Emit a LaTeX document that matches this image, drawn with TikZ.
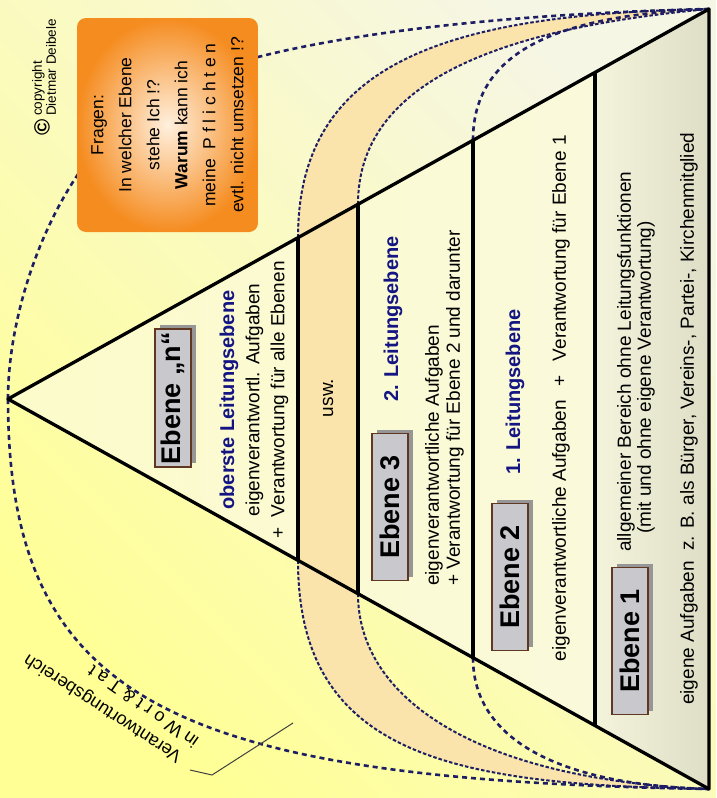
\documentclass[tikz,border=0pt]{standalone}
\usepackage{fontspec}
\setmainfont{Liberation Sans}
\usetikzlibrary{shadows}

\definecolor{bgyellow}{RGB}{255,255,150}
\definecolor{bgpale}{RGB}{246,246,228}
\definecolor{pyrleft}{RGB}{252,251,202}
\definecolor{pyrright}{RGB}{249,249,222}
\definecolor{peach}{RGB}{250,228,172}
\definecolor{navy}{RGB}{30,30,100}
\definecolor{headblue}{RGB}{20,20,130}
\definecolor{boxgray}{RGB}{200,200,205}
\definecolor{boxbrown}{RGB}{95,55,35}
\definecolor{shadowgray}{RGB}{150,150,150}
\definecolor{orangedark}{RGB}{245,140,32}
\definecolor{orangelight}{RGB}{255,240,222}
\definecolor{graylight}{RGB}{244,244,220}
\definecolor{grayband}{RGB}{222,222,198}

\tikzset{
  coarse/.style={draw=navy,line width=2.6pt,dash pattern=on 5pt off 4pt},
  fine/.style={draw=navy,line width=2pt,dash pattern=on 3.5pt off 2pt},
  wall/.style={line width=3.3pt,line join=round},
  ebenebox/.style={rotate=90,draw=boxbrown,line width=1.5pt,fill=boxgray,
    minimum width=147pt,minimum height=36pt,inner sep=0pt,
    font=\fontsize{27}{30}\selectfont\bfseries,
    drop shadow={shadow xshift=5pt,shadow yshift=4pt,fill=shadowgray,opacity=1}},
  head/.style={rotate=90,inner sep=0pt,text=headblue,font=\fontsize{20}{24}\selectfont\bfseries},
  txt/.style={rotate=90,inner sep=0pt,font=\fontsize{19}{21}\selectfont},
  bereichtxt/.style={inner sep=0pt,anchor=base west,font=\fontsize{18}{20}\selectfont},
}

\begin{document}
\begin{tikzpicture}[x=1pt,y=-1pt]
\useasboundingbox (0,0) rectangle (716,798);
\shade[top color=bgpale,bottom color=bgyellow,shading angle=-45] (0,0) rectangle (716,798);

\coordinate (A) at (8,399);
\coordinate (T) at (709,9);
\coordinate (B) at (709,789);
\coordinate (t1) at (298,237.7);
\coordinate (b1) at (298,560.3);
\coordinate (t2) at (358,204.3);
\coordinate (b2) at (358,593.7);
\coordinate (t3) at (473,140.3);
\coordinate (b3) at (473,657.7);
\coordinate (t4) at (595,72.4);
\coordinate (b4) at (595,725.6);

\shade[left color=pyrleft,right color=pyrright] (A) -- (T) -- (B) -- cycle;
\fill[peach] (t1) .. controls (298,60) and (450,14) .. (T)
  .. controls (480,30) and (358,90) .. (t2) -- (b2)
  .. controls (358,700) and (480,780) .. (B)
  .. controls (450,785) and (298,755) .. (b1) -- cycle;
\shade[left color=graylight,right color=grayband] (t4) -- (T) -- (B) -- (b4) -- cycle;

\draw[coarse] (A) .. controls (8,300) and (60,150) .. (165,90) .. controls (250,45) and (450,15) .. (T);
\draw[coarse] (A) .. controls (8,700) and (170,780) .. (B);
\draw[fine] (t1) .. controls (298,60) and (450,14) .. (T);
\draw[fine] (b1) .. controls (298,755) and (450,785) .. (B);
\draw[fine] (t2) .. controls (358,90) and (480,30) .. (T);
\draw[fine] (b2) .. controls (358,700) and (480,780) .. (B);
\draw[coarse] (t3) .. controls (473,50) and (560,15) .. (T);
\draw[coarse] (b3) .. controls (473,740) and (560,785) .. (B);

\draw[wall] (A) -- (T) -- (B) -- cycle;
\draw[wall] (t1) -- (b1) (t2) -- (b2) (t3) -- (b3) (t4) -- (b4);

\node[rotate=90,shade,rounded corners=9pt,inner color=orangelight,outer color=orangedark,
  minimum width=214pt,minimum height=181pt,align=center,
  font=\fontsize{17.5}{28}\selectfont] (fragen) at (167.5,125)
  {Fragen:\\In welcher Ebene\\stehe Ich !?\\\textbf{Warum} kann ich\\meine\ \ P f l i c h t e n\\evtl. nicht umsetzen !?};
\node[rotate=90,inner sep=0pt,font=\fontsize{22}{22}\selectfont\bfseries] (copysym) at (42,127) {©};
\node[rotate=90,inner sep=0pt,anchor=west,align=left,font=\fontsize{13.5}{14}\selectfont] (copytext) at (44,116) {copyright\\Dietmar Deibele};

\node[ebenebox,minimum width=138pt] (ebenen) at (173,398) {Ebene „n“};
\node[head] (headn) at (229,400) {oberste Leitungsebene};
\node[txt,align=center,font=\fontsize{19}{25}\selectfont] (textn) at (267,400) {eigenverantwortl. Aufgaben\\+\ \ Verantwortung für alle Ebenen};

\node[txt] (usw) at (328,398) {usw.};

\node[ebenebox] (ebene3) at (390,507) {Ebene 3};
\node[head] (head2) at (393,319) {2. Leitungsebene};
\node[txt,align=left,anchor=west] (text3) at (444.5,586) {eigenverantwortliche Aufgaben\\+ Verantwortung für Ebene 2 und darunter};

\node[ebenebox] (ebene2) at (510,577) {Ebene 2};
\node[head] (head1) at (515,392) {1. Leitungsebene};
\node[txt] (text2) at (561,398) {eigenverantwortliche Aufgaben\hspace{14pt}+\hspace{14pt}Verantwortung für Ebene 1};

\node[ebenebox] (ebene1) at (630,641) {Ebene 1};
\node[txt,anchor=west] (allg) at (626,552) {allgemeiner Bereich ohne Leitungsfunktionen};
\node[txt,anchor=west] (mit) at (646,534) {(mit und ohne eigene Verantwortung)};
\node[txt,anchor=west] (eigene) at (689,705) {eigene Aufgaben\ \ z. B. als Bürger, Vereins-, Partei-, Kirchenmitglied};

\node[bereichtxt,rotate=147] (bereich1) at (183,754) {Verantwortungsbereich};
\node[bereichtxt,rotate=145] (bereich2) at (200,739) {in W o r t \& T a t};
\coordinate (lead1) at (190,770);
\coordinate (lead2) at (212,775);
\coordinate (lead3) at (293,723);
\draw[line width=1pt,draw=black!75] (lead1) -- (lead2) -- (lead3);
\end{tikzpicture}
\end{document}
